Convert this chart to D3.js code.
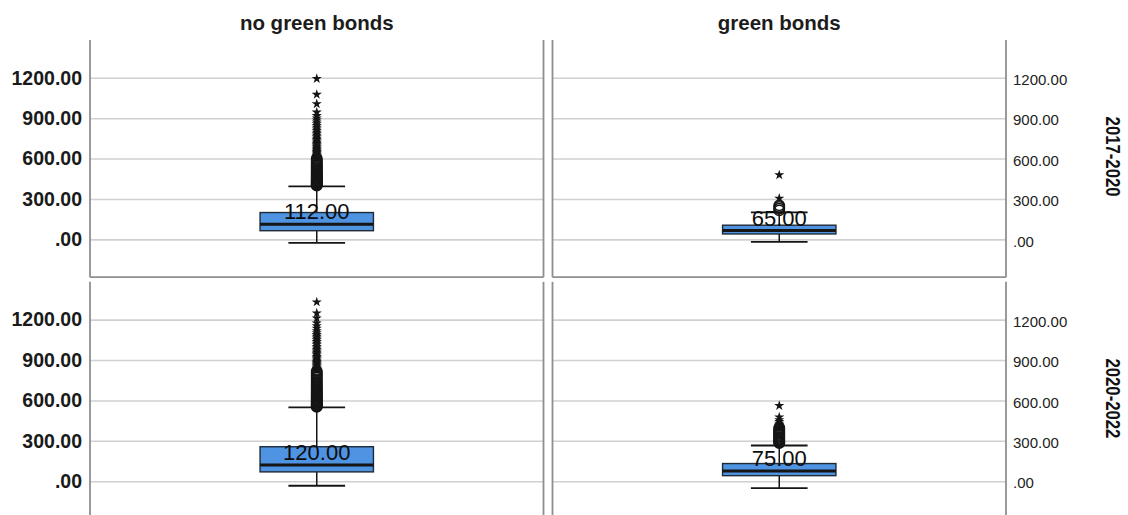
<!DOCTYPE html>
<html>
<head>
<meta charset="utf-8">
<script src="https://cdn.jsdelivr.net/npm/d3@7"></script>
<style>
  html, body { margin: 0; padding: 0; background: #fff; }
  svg { display: block; }
  text { font-family: "Liberation Sans", Arial, sans-serif; }
</style>
</head>
<body>
<svg id="chart" width="1128" height="515"></svg>
<script>
// Facets: columns are issuer groups, rows are periods
const columns = ["no green bonds", "green bonds"];
const rows = ["2017-2020", "2020-2022"];
const tickValues = [0, 300, 600, 900, 1200];

// Box statistics, one entry per cell (row-major: 2017-2020 no/green, 2020-2022 no/green)
const whiskerLow  = [-26, -19, -34, -51];
const q1          = [64, 40, 69, 41];
const medians     = [112, 65, 120, 75];
const q3          = [199, 105, 256, 131];
const whiskerHigh = [394, 200, 549, 265];

// Outliers (circles) and extreme values (stars) per cell
const outliersA = [400, 404, 408, 412, 416, 420, 425, 430, 435, 440, 446, 452, 458, 464, 470, 477, 484, 491, 498, 506, 514, 522, 531, 540, 549, 558, 568, 578, 589, 600];
const extremesA = [606, 612, 618, 624, 631, 638, 645, 652, 660, 668, 676, 684, 693, 702, 711, 720, 730, 740, 750, 761, 772, 783, 795, 807, 819, 832, 845, 858, 871, 885, 900, 918, 944, 1006, 1076, 1194];
const outliersB = [215, 228, 240, 252];
const extremesB = [305, 478];
const outliersC = [552, 557, 562, 568, 574, 580, 586, 592, 599, 606, 613, 620, 627, 635, 643, 651, 659, 668, 677, 686, 695, 705, 715, 725, 736, 747, 758, 770, 782, 794, 806, 818];
const extremesC = [826, 833, 840, 848, 856, 864, 872, 880, 889, 898, 907, 916, 926, 936, 946, 956, 967, 978, 989, 1000, 1012, 1024, 1036, 1049, 1062, 1075, 1088, 1102, 1116, 1136, 1154, 1174, 1211, 1249, 1331];
const outliersD = [283, 289, 295, 301, 308, 315, 322, 329, 337, 345, 353, 361, 370, 379, 388, 397];
const extremesD = [405, 412, 420, 430, 442, 456, 476, 561];

const outlierSets = [outliersA, outliersB, outliersC, outliersD];
const extremeSets = [extremesA, extremesB, extremesC, extremesD];

const svg = d3.select("#chart");

const colScale = d3.scaleBand().domain(columns).range([90, 1006]).paddingInner(18 / 925);
const rowScale = d3.scaleBand().domain(rows).range([40, 519]).paddingInner(18 / 925);

const valueDomain = [-281, 1481];
const fmt = d => d === 0 ? ".00" : d3.format(".2f")(d);

const frameColor = "#8f8f8f";
const gridColor = "#d0d0d0";
const boxFill = "#4f93e3";
const ink = "#151515";

// Column titles
svg.selectAll("text.col-title")
  .data(columns)
  .join("text")
  .attr("class", "col-title")
  .attr("x", d => colScale(d) + colScale.bandwidth() / 2)
  .attr("y", 30)
  .attr("text-anchor", "middle")
  .attr("font-family", "'DejaVu Sans', sans-serif")
  .attr("font-size", 20.5)
  .attr("font-weight", "bold")
  .attr("fill", "#1c1c1c")
  .text(d => d);

rows.forEach((row, ri) => {
  const top = rowScale(row);
  const bottom = top + rowScale.bandwidth();
  const y = d3.scaleLinear().domain(valueDomain).range([bottom, top]);

  columns.forEach((col, ci) => {
    const idx = ri * 2 + ci;
    const left = colScale(col);
    const right = left + colScale.bandwidth();
    const cx = left + colScale.bandwidth() / 2;
    const boxW = colScale.bandwidth() * 0.25;
    const capW = boxW / 2;
    const g = svg.append("g");

    // Gridlines
    g.append("g")
      .attr("transform", `translate(${left},0)`)
      .call(d3.axisLeft(y).tickValues(tickValues).tickSize(-(right - left)).tickFormat(""))
      .call(a => a.select(".domain").remove())
      .call(a => a.selectAll("line").attr("stroke", gridColor).attr("stroke-width", 1.6));

    // Panel frame: left, right, bottom edges
    g.append("line").attr("x1", left).attr("x2", left).attr("y1", top).attr("y2", bottom)
      .attr("stroke", frameColor).attr("stroke-width", 1.8);
    g.append("line").attr("x1", right).attr("x2", right).attr("y1", top).attr("y2", bottom)
      .attr("stroke", frameColor).attr("stroke-width", 1.8);
    if (ri === 0) {
      g.append("line").attr("x1", left).attr("x2", right).attr("y1", bottom).attr("y2", bottom)
        .attr("stroke", frameColor).attr("stroke-width", 1.8);
    }

    // Tick labels: bold on the left column, regular on the right edge
    if (ci === 0) {
      g.append("g")
        .attr("transform", `translate(${left},0)`)
        .call(d3.axisLeft(y).tickValues(tickValues).tickSize(0).tickPadding(8).tickFormat(fmt))
        .call(a => a.select(".domain").remove())
        .call(a => a.selectAll("text")
          .attr("font-family", "'Liberation Sans', Arial, sans-serif")
          .attr("font-size", 19.5).attr("font-weight", "bold").attr("fill", "#1a1a1a"));
    } else {
      g.append("g")
        .attr("transform", `translate(${right},0)`)
        .call(d3.axisRight(y).tickValues(tickValues).tickSize(0).tickPadding(7).tickFormat(fmt))
        .call(a => a.select(".domain").remove())
        .call(a => a.selectAll("text")
          .attr("font-family", "'Liberation Sans', Arial, sans-serif")
          .attr("font-size", 15).attr("fill", "#222").attr("dy", "0.45em"));
    }

    // Whisker stem and caps
    g.append("line").attr("x1", cx).attr("x2", cx)
      .attr("y1", y(whiskerLow[idx])).attr("y2", y(whiskerHigh[idx]))
      .attr("stroke", ink).attr("stroke-width", 1.5);
    [whiskerLow[idx], whiskerHigh[idx]].forEach(v => {
      g.append("line").attr("x1", cx - capW / 2).attr("x2", cx + capW / 2)
        .attr("y1", y(v)).attr("y2", y(v))
        .attr("stroke", ink).attr("stroke-width", 1.8);
    });

    // Box
    g.append("rect")
      .attr("x", cx - boxW / 2).attr("width", boxW)
      .attr("y", y(q3[idx])).attr("height", y(q1[idx]) - y(q3[idx]))
      .attr("fill", boxFill).attr("stroke", "#1f2a36").attr("stroke-width", 1.4);

    // Median
    g.append("line").attr("x1", cx - boxW / 2).attr("x2", cx + boxW / 2)
      .attr("y1", y(medians[idx])).attr("y2", y(medians[idx]))
      .attr("stroke", ink).attr("stroke-width", 3);

    // Median label
    g.append("text")
      .attr("x", cx).attr("y", y(medians[idx]) - 5)
      .attr("text-anchor", "middle")
      .attr("font-size", 22)
      .attr("fill", "#0d0d0d")
      .text(d3.format(".2f")(medians[idx]));

    // Outliers as open circles
    g.selectAll("circle.out")
      .data(outlierSets[idx])
      .join("circle")
      .attr("class", "out")
      .attr("cx", cx).attr("cy", d => y(d))
      .attr("r", 5.2)
      .attr("fill", "none")
      .attr("stroke", ink).attr("stroke-width", 1.5);

    // Extreme values as stars
    g.selectAll("path.ext")
      .data(extremeSets[idx])
      .join("path")
      .attr("class", "ext")
      .attr("transform", d => `translate(${cx},${y(d)})`)
      .attr("d", d3.symbol(d3.symbolStar).size(32))
      .attr("fill", ink);
  });

  // Row label on the right
  svg.append("text")
    .attr("transform", `translate(1106,${top + rowScale.bandwidth() / 2 - 2}) rotate(90)`)
    .attr("text-anchor", "middle")
    .attr("font-size", 21)
    .attr("font-weight", "bold")
    .attr("fill", "#111")
    .attr("textLength", 80)
    .attr("lengthAdjust", "spacingAndGlyphs")
    .text(row);
});
</script>
</body>
</html>
